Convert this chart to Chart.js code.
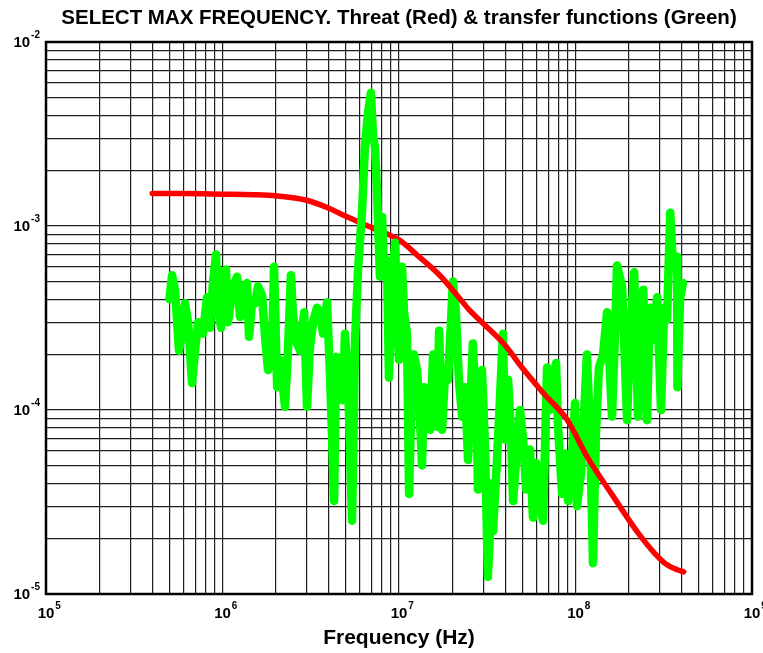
<!DOCTYPE html>
<html>
<head>
<meta charset="utf-8">
<script src="https://cdn.jsdelivr.net/npm/chart.js@4/dist/chart.umd.min.js"></script>
<style>
  html, body { margin: 0; padding: 0; background: #ffffff; }
  #wrap { width: 763px; height: 653px; }
</style>
</head>
<body>
<div id="wrap"><canvas id="chart" width="763" height="653"></canvas></div>
<script>
// Threat spectrum (red): frequency in Hz, level
const threatFreq = [4.0e5, 6.0e5, 1.0e6, 1.5e6, 2.0e6, 3.0e6, 4.0e6, 5.0e6, 7.0e6, 1.0e7,
  1.3e7, 1.7e7, 2.2e7, 2.5e7, 3.0e7, 4.0e7, 5.0e7, 6.6e7, 9.0e7, 1.16e8,
  1.6e8, 2.3e8, 2.8e8, 3.3e8, 3.8e8, 4.1e8];
const threatLevel = [1.50e-3, 1.50e-3, 1.49e-3, 1.48e-3, 1.46e-3, 1.38e-3, 1.25e-3, 1.13e-3, 9.8e-4, 8.4e-4,
  6.8e-4, 5.4e-4, 4.05e-4, 3.5e-4, 2.95e-4, 2.24e-4, 1.69e-4, 1.23e-4, 8.8e-5, 5.6e-5,
  3.5e-5, 2.1e-5, 1.67e-5, 1.44e-5, 1.35e-5, 1.32e-5];

// Measured transfer functions (green): frequency in Hz, level
const transferFreq = [
  5.0e5, 5.18e5, 5.38e5, 5.67e5, 5.90e5, 6.13e5, 6.38e5, 6.72e5, 6.99e5, 7.27e5,
  7.76e5, 8.17e5, 8.50e5, 8.83e5, 9.19e5, 9.43e5, 9.81e5, 1.007e6, 1.047e6, 1.074e6,
  1.148e6, 1.208e6, 1.257e6, 1.307e6, 1.377e6, 1.413e6, 1.469e6, 1.528e6, 1.589e6, 1.675e6,
  1.742e6, 1.811e6, 1.910e6, 1.959e6, 2.04e6, 2.12e6, 2.26e6, 2.35e6, 2.44e6, 2.51e6,
  2.64e6, 2.75e6, 2.90e6, 3.01e6, 3.13e6, 3.26e6, 3.43e6, 3.57e6, 3.71e6, 3.91e6,
  4.06e6, 4.29e6, 4.40e6, 4.52e6, 4.69e6, 4.82e6, 4.94e6, 5.14e6, 5.42e6, 5.64e6,
  5.86e6, 6.17e6, 6.41e6, 6.67e6, 6.93e6, 7.13e6, 7.31e6, 7.50e6, 7.80e6, 8.02e6,
  8.22e6, 8.55e6, 8.77e6, 9.12e6, 9.49e6, 9.75e6, 1.0e7, 1.04e7, 1.067e7, 1.11e7,
  1.14e7, 1.185e7, 1.216e7, 1.265e7, 1.30e7, 1.35e7, 1.387e7, 1.442e7, 1.50e7, 1.56e7,
  1.60e7, 1.64e7, 1.687e7, 1.754e7, 1.824e7, 1.897e7, 1.972e7, 2.02e7, 2.10e7, 2.19e7,
  2.28e7, 2.37e7, 2.46e7, 2.62e7, 2.77e7, 2.80e7, 2.95e7, 3.07e7, 3.19e7, 3.37e7,
  3.41e7, 3.59e7, 3.73e7, 3.88e7, 3.99e7, 4.15e7, 4.31e7, 4.43e7, 4.60e7, 4.85e7,
  5.05e7, 5.25e7, 5.52e7, 5.74e7, 5.97e7, 6.21e7, 6.55e7, 6.90e7, 7.18e7, 7.46e7,
  7.76e7, 7.96e7, 8.39e7, 8.73e7, 9.08e7, 9.55e7, 9.93e7, 1.02e8, 1.074e8, 1.117e8,
  1.16e8, 1.21e8, 1.256e8, 1.306e8, 1.358e8, 1.432e8, 1.51e8, 1.61e8, 1.675e8, 1.718e8,
  1.836e8, 1.96e8, 2.04e8, 2.15e8, 2.26e8, 2.42e8, 2.54e8, 2.64e8, 2.75e8, 2.90e8,
  3.05e8, 3.18e8, 3.30e8, 3.44e8, 3.57e8, 3.76e8, 3.78e8, 3.91e8, 4.06e8
];
const transferLevel = [
  4.0e-4, 5.4e-4, 4.5e-4, 2.1e-4, 2.6e-4, 3.8e-4, 3.0e-4, 1.4e-4, 2.1e-4, 3.0e-4,
  2.6e-4, 4.1e-4, 2.8e-4, 4.9e-4, 7.0e-4, 3.6e-4, 2.8e-4, 5.6e-4, 5.8e-4, 3.0e-4,
  4.7e-4, 5.3e-4, 3.2e-4, 4.7e-4, 4.9e-4, 2.5e-4, 3.8e-4, 3.8e-4, 4.7e-4, 4.2e-4,
  2.5e-4, 1.65e-4, 2.2e-4, 6.0e-4, 1.33e-4, 1.87e-4, 1.04e-4, 2.1e-4, 5.4e-4, 3.3e-4,
  2.3e-4, 2.1e-4, 3.4e-4, 1.04e-4, 2.2e-4, 3.0e-4, 3.6e-4, 3.4e-4, 2.6e-4, 3.85e-4,
  1.6e-4, 3.2e-5, 1.94e-4, 1.13e-4, 1.71e-4, 1.13e-4, 2.6e-4, 1.46e-4, 2.5e-5, 2.4e-4,
  5.8e-4, 1.18e-3, 2.7e-3, 4.1e-3, 5.3e-3, 3.05e-3, 2.7e-3, 1.57e-3, 5.3e-4, 1.12e-3,
  6.0e-4, 6.5e-4, 1.5e-4, 4.5e-4, 8.1e-4, 3.4e-4, 1.87e-4, 6.0e-4, 3.4e-4, 2.6e-4,
  3.5e-5, 1.46e-4, 2.0e-4, 1.65e-4, 1.13e-4, 5.0e-5, 1.33e-4, 9.6e-5, 7.8e-5, 2.0e-4,
  1.13e-4, 8.1e-5, 2.7e-4, 7.8e-5, 1.6e-4, 1.46e-4, 3.1e-4, 5.0e-4, 3.4e-4, 1.4e-4,
  9.2e-5, 1.33e-4, 5.35e-5, 2.3e-4, 7.5e-5, 3.7e-5, 1.65e-4, 6.3e-5, 1.24e-5, 4.0e-5,
  2.2e-5, 5.35e-5, 1.13e-4, 2.6e-4, 6.9e-5, 1.46e-4, 7.5e-5, 3.2e-5, 5.35e-5, 1.0e-4,
  6.9e-5, 3.7e-5, 6.1e-5, 2.6e-5, 5.15e-5, 3.2e-5, 2.5e-5, 1.7e-4, 1.0e-4, 1.29e-4,
  1.8e-4, 8.1e-5, 3.5e-5, 5.8e-5, 3.2e-5, 5.35e-5, 1.09e-4, 3.0e-5, 4.55e-5, 9.2e-5,
  2.0e-4, 7.5e-5, 1.47e-5, 7.5e-5, 1.7e-4, 2.0e-4, 3.4e-4, 9.2e-5, 2.6e-4, 6.1e-4,
  4.7e-4, 8.8e-5, 2.6e-4, 5.6e-4, 9.2e-5, 4.5e-4, 8.8e-5, 3.6e-4, 2.4e-4, 4.1e-4,
  1.0e-4, 3.6e-4, 3.1e-4, 1.18e-3, 6.0e-4, 6.8e-4, 1.33e-4, 4.0e-4, 4.9e-4
];

// Decade tick labels (drawn as 10 with a superscript exponent)
const xTickExponents = [5, 6, 7, 8, 9];
const yTickExponents = [-5, -4, -3, -2];

const FONT = '"Liberation Sans", Arial, Helvetica, sans-serif';

function points(xs, ys) {
  return xs.map((x, i) => ({ x: x, y: ys[i] }));
}

// grid lines at 1..9 x 10^n within the decade range
function decadeGrid(exps) {
  const ticks = [];
  for (let e = exps[0]; e < exps[exps.length - 1]; e++) {
    for (let k = 1; k <= 9; k++) ticks.push({ value: k * Math.pow(10, e) });
  }
  ticks.push({ value: Math.pow(10, exps[exps.length - 1]) });
  return ticks;
}

const transferPts = points(transferFreq, transferLevel);
const splitAt = 90; // lower band drawn over the threat curve, upper band beneath it

const frameAndLabels = {
  id: 'frameAndLabels',
  afterDatasetsDraw(chart) {
    const { ctx, chartArea: a } = chart;
    ctx.save();
    ctx.strokeStyle = '#000';
    ctx.lineWidth = 2.5;
    ctx.strokeRect(a.left, a.top, a.right - a.left, a.bottom - a.top);
    ctx.restore();
  },
  afterDraw(chart) {
    const { ctx } = chart;
    const xs = chart.scales.x, ys = chart.scales.y;
    const big = 'bold 15px ' + FONT;
    const small = 'bold 10px ' + FONT;
    ctx.save();
    ctx.fillStyle = '#000';
    ctx.textBaseline = 'middle';
    xTickExponents.forEach(e => {
      const px = xs.getPixelForValue(Math.pow(10, e));
      ctx.font = big;
      ctx.textAlign = 'center';
      ctx.fillText('10', px, 614);
      const w = ctx.measureText('10').width;
      ctx.font = small;
      ctx.textAlign = 'left';
      ctx.fillText(String(e), px + w / 2 + 1, 606);
    });
    yTickExponents.forEach(e => {
      const py = ys.getPixelForValue(Math.pow(10, e));
      ctx.font = small;
      ctx.textAlign = 'right';
      const exp = String(e);
      ctx.fillText(exp, 40, py - 7);
      const ew = ctx.measureText(exp).width;
      ctx.font = big;
      ctx.fillText('10', 40 - ew - 1, py + 1);
    });
    ctx.restore();
  }
};

const gridStyle = { color: '#1e1e1e', lineWidth: 1.2, drawTicks: false };

new Chart(document.getElementById('chart'), {
  type: 'line',
  data: {
    datasets: [
      {
        label: 'Transfer functions',
        data: transferPts.slice(0, splitAt + 1),
        borderColor: '#00ff00',
        borderWidth: 8.5,
        pointRadius: 0,
        tension: 0,
        borderJoinStyle: 'round',
        borderCapStyle: 'round',
        order: 0
      },
      {
        label: 'Threat',
        data: points(threatFreq, threatLevel),
        borderColor: '#ff0000',
        borderWidth: 5.5,
        pointRadius: 0,
        cubicInterpolationMode: 'monotone',
        borderJoinStyle: 'round',
        borderCapStyle: 'round',
        order: 1
      },
      {
        label: 'Transfer functions (upper band)',
        data: transferPts.slice(splitAt),
        borderColor: '#00ff00',
        borderWidth: 8.5,
        pointRadius: 0,
        tension: 0,
        borderJoinStyle: 'round',
        borderCapStyle: 'round',
        order: 2
      }
    ]
  },
  options: {
    responsive: false,
    animation: false,
    devicePixelRatio: 1,
    layout: { padding: { left: 46, right: 11, top: 0, bottom: 0 } },
    plugins: {
      legend: { display: false },
      tooltip: { enabled: false },
      title: {
        display: true,
        text: 'SELECT MAX FREQUENCY. Threat (Red) & transfer functions (Green)',
        color: '#000',
        font: { family: FONT, size: 20.5, weight: 'bold', lineHeight: 1.2 },
        padding: { top: 5.7, bottom: 11.7 }
      }
    },
    scales: {
      x: {
        type: 'logarithmic',
        min: 1e5,
        max: 1e9,
        afterBuildTicks: s => { s.ticks = decadeGrid(xTickExponents); },
        ticks: { display: false },
        grid: gridStyle,
        border: { display: false },
        title: {
          display: true,
          text: 'Frequency (Hz)',
          color: '#000',
          font: { family: FONT, size: 21, weight: 'bold', lineHeight: 1.2 },
          padding: { top: 31.4, bottom: 2.4 }
        }
      },
      y: {
        type: 'logarithmic',
        min: 1e-5,
        max: 1e-2,
        afterBuildTicks: s => { s.ticks = decadeGrid(yTickExponents); },
        ticks: { display: false },
        grid: gridStyle,
        border: { display: false }
      }
    }
  },
  plugins: [frameAndLabels]
});
</script>
</body>
</html>
